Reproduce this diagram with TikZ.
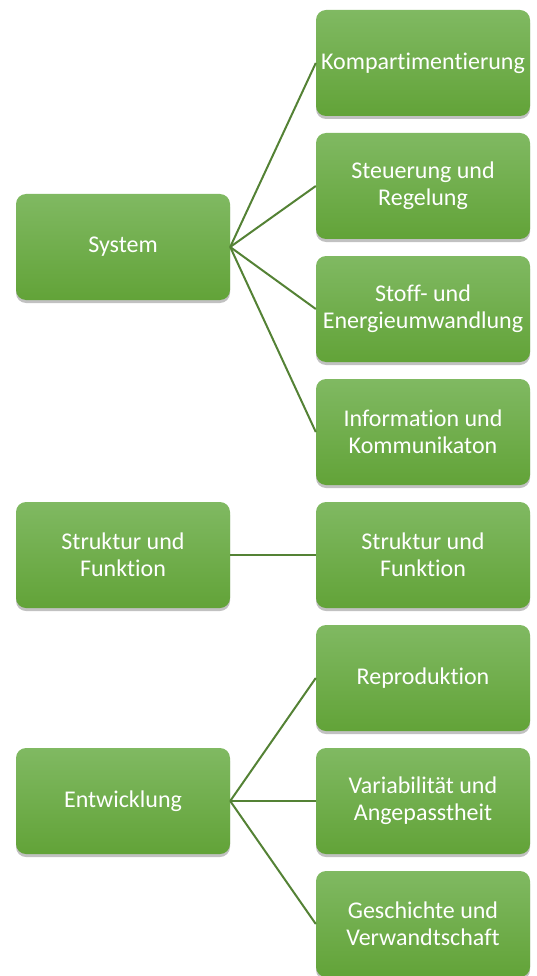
\documentclass[tikz,border=0pt]{standalone}
\usepackage{fontspec}
\setmainfont[Ligatures=NoCommon]{Carlito}
\usetikzlibrary{shadows}
\definecolor{boxtop}{RGB}{128,185,98}
\definecolor{boxbot}{RGB}{98,163,56}
\definecolor{linkgreen}{RGB}{84,130,53}
\tikzset{
  gbox/.style={rectangle, rounded corners=10pt, minimum width=214pt, minimum height=106pt,
    top color=boxtop, bottom color=boxbot, draw=none, text=white,
    font=\fontsize{24}{27}\selectfont, align=center, inner sep=2pt,
    drop shadow={shadow xshift=0pt, shadow yshift=-3pt, opacity=0.35, fill=black!70}},
  link/.style={draw=linkgreen, line width=2pt}
}
\begin{document}
\begin{tikzpicture}[x=1pt,y=-1pt]
\useasboundingbox (0,0) rectangle (536,976);
\node[gbox] (sys) at (123,247) {System};
\node[gbox] (suf) at (123,555) {Struktur und\\Funktion};
\node[gbox] (ent) at (123,801) {Entwicklung};
\node[gbox] (r1) at (423,63) {Kompartimentierung};
\node[gbox] (r2) at (423,186) {Steuerung und\\Regelung};
\node[gbox] (r3) at (423,309) {Stoff- und\\Energieumwandlung};
\node[gbox] (r4) at (423,432) {Information und\\Kommunikaton};
\node[gbox] (r5) at (423,555) {Struktur und\\Funktion};
\node[gbox] (r6) at (423,678) {Reproduktion};
\node[gbox] (r7) at (423,801) {Variabilität und\\Angepasstheit};
\node[gbox] (r8) at (423,924) {Geschichte und\\Verwandtschaft};
\foreach \t in {r1,r2,r3,r4} \draw[link] (sys.east) -- (\t.west);
\draw[link] (suf.east) -- (r5.west);
\foreach \t in {r6,r7,r8} \draw[link] (ent.east) -- (\t.west);
\end{tikzpicture}
\end{document}
